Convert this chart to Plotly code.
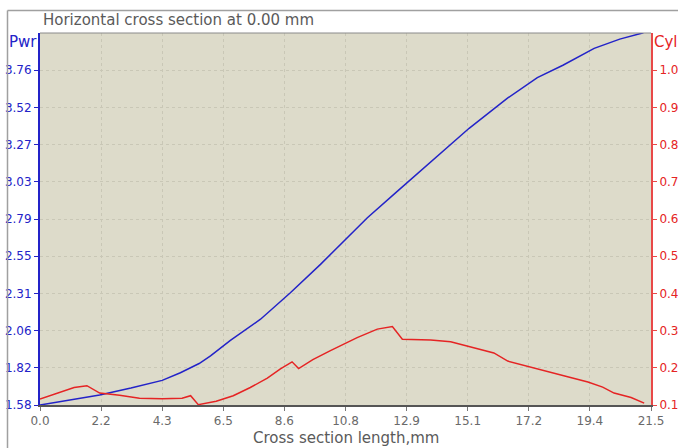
import plotly.graph_objects as go

# Pwr (left axis) series
pwr_x = [0, 1.0, 2.1, 3.2, 4.3, 4.94, 5.6, 6.0, 6.7, 7.76, 8.81, 9.87, 10.81, 11.52,
         12.57, 13.4, 14.22, 15.1, 16.45, 17.5, 18.4, 19.5, 20.4, 21.2, 21.4]
pwr_y = [1.58, 1.61, 1.645, 1.69, 1.74, 1.79, 1.85, 1.90, 2.0, 2.138, 2.31, 2.495, 2.668, 2.798,
         2.97, 3.105, 3.24, 3.38, 3.576, 3.71, 3.79, 3.90, 3.96, 4.0, 4.02]

# Cyl (right axis) series
cyl_x = [0, 0.7, 1.2, 1.65, 2.1, 2.8, 3.5, 4.3, 5.0, 5.3, 5.57, 6.2, 6.8, 7.4, 8.0, 8.46,
         8.87, 9.1, 9.6, 10.22, 10.57, 11.16, 11.87, 12.40, 12.75, 13.75, 14.45, 15.05, 15.5,
         15.97, 16.46, 17.2, 17.87, 18.6, 19.28, 19.8, 20.2, 20.8, 21.26]
cyl_y = [0.116, 0.135, 0.147, 0.152, 0.132, 0.126, 0.118, 0.117, 0.118, 0.125, 0.101, 0.11,
         0.125, 0.147, 0.172, 0.197, 0.216, 0.198, 0.222, 0.246, 0.259, 0.281, 0.304, 0.311,
         0.277, 0.275, 0.27, 0.258, 0.25, 0.24, 0.218, 0.203, 0.188, 0.175, 0.162, 0.148,
         0.132, 0.12, 0.105]

x_tickvals = [0, 2.15, 4.3, 6.45, 8.6, 10.75, 12.9, 15.05, 17.2, 19.35, 21.5]
x_ticktext = ["0.0", "2.2", "4.3", "6.5", "8.6", "10.8", "12.9", "15.1", "17.2", "19.4", "21.5"]
pwr_tickvals = [1.58, 1.822, 2.064, 2.306, 2.548, 2.79, 3.032, 3.274, 3.516, 3.758]
pwr_ticktext = ["1.58", "1.82", "2.06", "2.31", "2.55", "2.79", "3.03", "3.27", "3.52", "3.76"]
cyl_tickvals = [0.1, 0.2, 0.3, 0.4, 0.5, 0.6, 0.7, 0.8, 0.9, 1.0]
cyl_ticktext = ["0.10", "0.20", "0.30", "0.40", "0.50", "0.60", "0.70", "0.80", "0.90", "1.00"]

BLUE = "#2323C8"
RED = "#E52424"
GRID = "#C9C7B6"
FONT = "DejaVu Sans"
TICK = 12

W, H = 678, 448
ML, MR, MT, MB = 40, 27, 33, 43
PW, PH = W - ML - MR, H - MT - MB

fig = go.Figure()
fig.add_trace(go.Scatter(x=pwr_x, y=pwr_y, mode="lines", line=dict(color=BLUE, width=1.5),
                         yaxis="y", showlegend=False))
fig.add_trace(go.Scatter(x=cyl_x, y=cyl_y, mode="lines", line=dict(color=RED, width=1.5),
                         yaxis="y2", showlegend=False))

fx = -(ML - 7.5) / PW
fy = 1 + (MT - 10.5) / PH

fig.update_layout(
    width=W, height=H,
    margin=dict(l=ML, r=MR, t=MT, b=MB, autoexpand=False),
    paper_bgcolor="white",
    plot_bgcolor="#DDDBCA",
    font=dict(family=FONT, size=TICK),
    xaxis=dict(range=[0, 21.5], tickvals=x_tickvals, ticktext=x_ticktext, automargin=False,
               showgrid=True, gridcolor=GRID, griddash="dot", gridwidth=1,
               showline=True, linecolor="#555555", linewidth=2,
               ticks="outside", ticklen=4, tickcolor="#777777",
               tickfont=dict(color="#6A6A6A", size=TICK), zeroline=False),
    yaxis=dict(range=[1.58, 4.0], tickvals=pwr_tickvals, ticktext=pwr_ticktext, automargin=False,
               showgrid=True, gridcolor=GRID, griddash="dot", gridwidth=1,
               showline=True, linecolor=BLUE, linewidth=2,
               ticks="outside", ticklen=4, tickcolor=BLUE,
               tickfont=dict(color=BLUE, size=TICK), zeroline=False),
    yaxis2=dict(range=[0.1, 1.1], tickvals=cyl_tickvals, ticktext=cyl_ticktext, automargin=False,
                overlaying="y", side="right", showgrid=False,
                showline=True, linecolor="#E84848", linewidth=2,
                ticks="outside", ticklen=4, tickcolor="#E84848",
                tickfont=dict(color=RED, size=TICK), zeroline=False),
    shapes=[
        dict(type="line", xref="paper", yref="paper", x0=0, x1=1, y0=1, y1=1,
             line=dict(color="#8A8A8A", width=1)),
        dict(type="line", xref="paper", yref="paper", x0=fx, x1=1.2, y0=fy, y1=fy,
             line=dict(color="#A0A0A0", width=1.5)),
        dict(type="line", xref="paper", yref="paper", x0=fx, x1=fx, y0=fy, y1=-0.3,
             line=dict(color="#A0A0A0", width=1.5)),
    ],
    annotations=[
        dict(text="Horizontal cross section at 0.00 mm", xref="paper", yref="paper",
             x=0, y=1, xanchor="left", yanchor="middle", yshift=13, xshift=1,
             showarrow=False, font=dict(family=FONT, size=15, color="#5A5A5A")),
        dict(text="Pwr", xref="paper", yref="paper", x=0, y=1, xanchor="right", yanchor="top",
             xshift=-1, yshift=2, showarrow=False, font=dict(family=FONT, size=15, color=BLUE)),
        dict(text="Cyl", xref="paper", yref="paper", x=1, y=1, xanchor="left", yanchor="top",
             xshift=1, yshift=2, showarrow=False, font=dict(family=FONT, size=15, color=RED)),
        dict(text="Cross section length,mm", xref="paper", yref="paper", x=0.5, y=0,
             xanchor="center", yanchor="middle", yshift=-33, showarrow=False,
             font=dict(family=FONT, size=15, color="#5A5A5A")),
    ],
)

fig.write_html("out.html",
               config={"displayModeBar": False},
               post_script="document.body.style.margin='0';document.body.style.overflow='hidden';")
